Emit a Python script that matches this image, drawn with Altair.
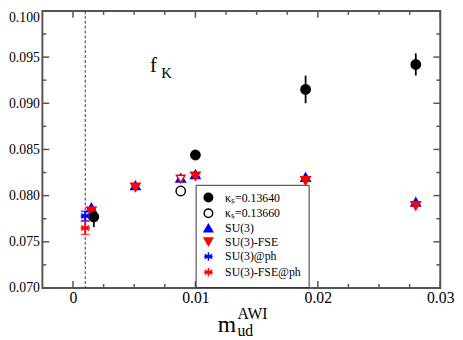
import altair as alt
import pandas as pd

# ---------------- data ----------------
names = ["κₛ=0.13640", "κₛ=0.13660", "SU(3)", "SU(3)-FSE", "SU(3)@ph", "SU(3)-FSE@ph"]

k40_x = [0.0017, 0.0100, 0.0190, 0.0280]
k40_y = [0.0777, 0.0844, 0.0915, 0.0942]
k40_e = [0.0011, 0.0003, 0.0015, 0.0012]

k60_x = [0.0088]
k60_y = [0.0805]

su3_x = [0.0015, 0.0051, 0.0088, 0.0100, 0.0190, 0.0280]
su3_y = [0.0787, 0.0811, 0.0819, 0.0823, 0.0820, 0.0793]

fse_x = [0.0015, 0.0051, 0.0100, 0.0190, 0.0280]
fse_y = [0.0783, 0.0809, 0.0821, 0.0816, 0.0789]

fse_open_x = [0.0088]
fse_open_y = [0.0818]

su3ph_x = [0.0010]
su3ph_y = [0.0778]
su3ph_e = [0.0005]

fseph_x = [0.0010]
fseph_y = [0.0765]
fseph_e = [0.0007]

phys_x = [0.0010]

y_major = [0.070, 0.075, 0.080, 0.085, 0.090, 0.095, 0.100]
y_minor = [0.0725, 0.0775, 0.0825, 0.0875, 0.0925, 0.0975]
x_major = [0.0, 0.01, 0.02, 0.03]
x_minor = [0.0025, 0.005, 0.0075, 0.0125, 0.015, 0.0175, 0.0225, 0.025, 0.0275]

# ---------------- styling ----------------
FONT = "Liberation Serif"
W, H = 405, 282
FRAME = "#555555"

xs = alt.Scale(domain=[-0.0025, 0.03], nice=False, zero=False)
ys = alt.Scale(domain=[0.07, 0.1], nice=False, zero=False)

xaxis = alt.Axis(values=x_major, title=None, ticks=False, tickSize=0, domain=False, grid=False,
                 labelExpr="datum.value == 0 ? '0' : format(datum.value, '.2f')",
                 labelFont=FONT, labelFontSize=16, labelPadding=2, labelColor="black",
                 labelFlush=False)
yaxis = alt.Axis(values=y_major, title=None, ticks=False, tickSize=0, domain=False, grid=False,
                 format=".3f", labelFont=FONT, labelFontSize=14, labelPadding=3,
                 labelColor="black", labelFlush=False,
                 labelBaseline={"condition": {"test": "datum.value >= 0.0999", "value": "top"},
                                "value": "middle"})

X = lambda f: alt.X(f, type="quantitative", scale=xs, axis=xaxis)
Y = lambda f: alt.Y(f, type="quantitative", scale=ys, axis=yaxis)

# ---------------- tables ----------------
rows = []
for nm, xx, yy in [(names[2], su3_x, su3_y), (names[3], fse_x, fse_y),
                   (names[0], k40_x, k40_y), (names[1], k60_x, k60_y),
                   (names[4], su3ph_x, su3ph_y), (names[5], fseph_x, fseph_y)]:
    for a, b in zip(xx, yy):
        rows.append({"x": a, "y": b, "series": nm})
pts = pd.DataFrame(rows)

err_rows = []
for xx, yy, ee, col in [(k40_x, k40_y, k40_e, "black"),
                        (su3ph_x, su3ph_y, su3ph_e, "blue"),
                        (fseph_x, fseph_y, fseph_e, "red")]:
    for a, b, e in zip(xx, yy, ee):
        err_rows.append({"x": a, "lo": b - e, "hi": b + e, "c": col})
err = pd.DataFrame(err_rows)

cap_rows = []
for xx, yy, ee, col in [(su3ph_x, su3ph_y, su3ph_e, "blue"), (fseph_x, fseph_y, fseph_e, "red")]:
    for a, b, e in zip(xx, yy, ee):
        cap_rows.append({"x": a, "y": b - e, "c": col})
        cap_rows.append({"x": a, "y": b + e, "c": col})
caps = pd.DataFrame(cap_rows)

# ---------------- layers ----------------
layers = []

# dashed vertical line at the physical point
layers.append(alt.Chart(pd.DataFrame({"x": phys_x})).mark_rule(
    color="#333333", strokeWidth=1, strokeDash=[3, 2]).encode(x=X("x")))

# inward ticks on all four sides
def yticks(vals, length):
    d = pd.DataFrame({"v": vals})
    l = alt.Chart(d).mark_rule(color=FRAME, strokeWidth=1.5).encode(
        y=Y("v"), x=alt.value(0), x2=alt.value(length))
    r = alt.Chart(d).mark_rule(color=FRAME, strokeWidth=1.5).encode(
        y=Y("v"), x=alt.value(W - length), x2=alt.value(W))
    return [l, r]

def xticks(vals, length):
    d = pd.DataFrame({"v": vals})
    t = alt.Chart(d).mark_rule(color=FRAME, strokeWidth=1.5).encode(
        x=X("v"), y=alt.value(0), y2=alt.value(length))
    b = alt.Chart(d).mark_rule(color=FRAME, strokeWidth=1.5).encode(
        x=X("v"), y=alt.value(H - length), y2=alt.value(H))
    return [t, b]

layers += yticks(y_major, 7) + yticks(y_minor, 4) + xticks(x_major, 7) + xticks(x_minor, 4)

# error bars
layers.append(alt.Chart(err).mark_rule(strokeWidth=1.8).encode(
    x=X("x"), y=Y("lo"), y2="hi", stroke=alt.Stroke("c:N", scale=None)))
layers.append(alt.Chart(caps).mark_tick(orient="horizontal", size=9, thickness=1.5).encode(
    x=X("x"), y=Y("y"), color=alt.Color("c:N", scale=None)))

# points
star = "M0,-1L0,1M-0.87,-0.5L0.87,0.5M-0.87,0.5L0.87,-0.5M-1,0L1,0"
leg = alt.Legend(title=None, orient="none", legendX=156, legendY=177)
fill_sc = alt.Scale(domain=names, range=["black", "white", "blue", "red", "blue", "red"])
stroke_sc = alt.Scale(domain=names, range=["black", "black", "blue", "red", "blue", "red"])
shape_sc = alt.Scale(domain=names, range=["circle", "circle", "triangle-up", "triangle-down", star, star])

layers.append(alt.Chart(pts).mark_point(filled=True, opacity=1, size=90, strokeWidth=1.5).encode(
    x=X("x"), y=Y("y"),
    fill=alt.Fill("series:N", scale=fill_sc, legend=leg),
    stroke=alt.Stroke("series:N", scale=stroke_sc, legend=leg),
    shape=alt.Shape("series:N", scale=shape_sc, legend=leg),
))

# open red triangle (SU(3)-FSE at kappa_s = 0.13660)
layers.append(alt.Chart(pd.DataFrame({"x": fse_open_x, "y": fse_open_y})).mark_point(
    shape="triangle-down", filled=True, fill="white", stroke="red", strokeWidth=1.5,
    opacity=1, size=75).encode(x=X("x"), y=Y("y")))

# f_K annotation
layers.append(alt.Chart(pd.DataFrame({"x": [0.0063], "y": [0.0934], "t": ["f"]})).mark_text(
    font=FONT, fontSize=21, align="left", baseline="alphabetic", color="black").encode(
    x=X("x"), y=Y("y"), text="t:N"))
layers.append(alt.Chart(pd.DataFrame({"x": [0.0072], "y": [0.0927], "t": ["K"]})).mark_text(
    font=FONT, fontSize=15, align="left", baseline="alphabetic", color="black").encode(
    x=X("x"), y=Y("y"), text="t:N"))

# x axis title m_ud^AWI
for txt, px, py, fs in [("m", 178.5, 327, 24), ("ud", 198.5, 330.5, 16), ("AWI", 198.5, 313.5, 16)]:
    layers.append(alt.Chart(pd.DataFrame({"t": [txt]})).mark_text(
        font=FONT, fontSize=fs, align="left", baseline="alphabetic", color="black").encode(
        x=alt.value(px), y=alt.value(py), text="t:N"))

chart = alt.layer(*layers).properties(
    width=W, height=H,
    autosize=alt.AutoSizeParams(type="none"),
    padding={"left": 35, "top": 0, "right": 15, "bottom": 50},
).configure_view(
    stroke=FRAME, strokeWidth=2
).configure_axis(
    labelFont=FONT, labelColor="black"
).configure_legend(
    strokeColor="#333333", fillColor="white", padding=7, cornerRadius=0,
    labelFont=FONT, labelFontSize=12, labelColor="black", symbolSize=75,
    symbolStrokeWidth=1.5, rowPadding=0, labelOffset=11, labelLimit=200,
)

chart.save("out.html", embed_options={"renderer": "svg", "actions": False})
